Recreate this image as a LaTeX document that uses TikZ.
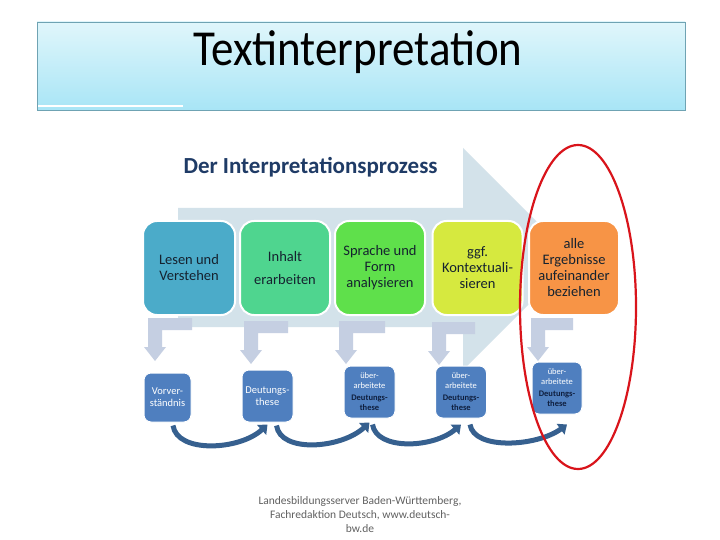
\documentclass[tikz,border=0pt]{standalone}
\usepackage{fontspec}
\setmainfont{Carlito}
\usetikzlibrary{arrows.meta}
\definecolor{titletop}{HTML}{E0F6FB}
\definecolor{titlebot}{HTML}{A8E5F6}
\definecolor{titleline}{HTML}{6FA3B3}
\definecolor{bigarrow}{HTML}{D3E2EA}
\definecolor{boxA}{HTML}{4BABC9}
\definecolor{boxB}{HTML}{4FD58F}
\definecolor{boxC}{HTML}{5FE04B}
\definecolor{boxD}{HTML}{D6E93F}
\definecolor{boxE}{HTML}{F79446}
\definecolor{boxtext}{HTML}{15222F}
\definecolor{lowbox}{HTML}{4F7FBF}
\definecolor{lowtext}{HTML}{0F1F3F}
\definecolor{bentgray}{HTML}{C5CFE2}
\definecolor{curveblue}{HTML}{36608F}
\definecolor{headblue}{HTML}{1F3B66}
\definecolor{ringred}{HTML}{D9141B}
\def\bentarrow(#1,#2)(#3){\fill[bentgray] (#1,-#2) -- (#3,-#2) -- (#3,-#2-12) -- (#1+14,-#2-12) -- (#1+14,-#2-29) -- (#1+18,-#2-29) -- (#1+7,-#2-43) -- (#1-4,-#2-29) -- (#1,-#2-29) -- cycle;}
\def\redone{\bfseries\color{lowtext}}

\begin{document}
\begin{tikzpicture}[x=1pt,y=1pt,
    topbox/.style={draw=white, line width=2pt, rounded corners=14pt, minimum width=90pt, minimum height=94pt, align=center, text=boxtext, font=\fontsize{14.5}{16}\selectfont},
    lowbox/.style={draw=white, line width=1pt, fill=lowbox, rounded corners=7pt, minimum width=51pt, minimum height=52pt, align=center, text=white, font=\fontsize{10.5}{12}\selectfont},
    reworked/.style={lowbox, font=\fontsize{8.5}{10}\selectfont},
    curvearrow/.style={draw=curveblue, line width=5pt, -{Triangle[width=13pt,length=8pt]}}]
    %%%%% START %%%%%

    \useasboundingbox (0,0) rectangle (720,-540);
    \fill[white] (0,0) rectangle (720,-540);

    % title
    \draw[titleline, top color=titletop, bottom color=titlebot] (37,-22) rectangle (685,-110);
    \draw[white, line width=1.5pt] (38,-106) -- (183,-106);
    \node (title) at (358,-52) {\scalebox{1}[1.12]{\fontsize{45}{50}\selectfont Textinterpretation}};

    % big arrow
    \fill[bigarrow] (178,-208) -- (463,-208) -- (463,-148) -- (574,-259) -- (463,-370) -- (463,-327) -- (178,-327) -- cycle;
    \node[anchor=west, text=headblue] (head) at (180,-167) {\fontsize{23}{27}\selectfont\bfseries Der Interpretationsprozess};

    % steps
    \node[topbox, fill=boxA, minimum width=92pt] (lesen) at (189,-268) {Lesen und\\Verstehen};
    \node[topbox, fill=boxB] (inhalt) at (285,-268) {Inhalt\\[7pt]erarbeiten};
    \node[topbox, fill=boxC] (sprache) at (380,-268) {Sprache und\\Form\\analysieren};
    \node[topbox, fill=boxD] (kontext) at (477.5,-268) {ggf.\\Kontextuali-\\sieren};
    \node[topbox, fill=boxE] (alle) at (574,-268) {alle\\Ergebnisse\\aufeinander\\beziehen};

    % bent arrows
    \bentarrow(148,318)(192)
    \bentarrow(244,321)(288)
    \bentarrow(339,321)(385)
    \bentarrow(432,322)(475)
    \bentarrow(531,318)(573)

    % results
    \node[lowbox, minimum width=47pt, minimum height=49pt] (vorver) at (167.5,-397.5) {Vorver-\\ständnis};
    \node[lowbox] (these) at (267.5,-396) {Deutungs-\\these};
    \node[reworked] (ueberA) at (369.5,-392) {über-\\arbeitete\\[2pt]{\redone Deutungs-}\\{\redone these}};
    \node[reworked] (ueberB) at (461,-392) {über-\\arbeitete\\[2pt]{\redone Deutungs-}\\{\redone these}};
    \node[reworked, minimum width=50pt] (ueberC) at (557,-388) {über-\\arbeitete\\[2pt]{\redone Deutungs-}\\{\redone these}};

    % curved arrows
    \draw[curvearrow] ([xshift=5.5pt,yshift=-3pt]vorver.south) .. controls +(4,-28) and +(-28,-26) .. ([yshift=-2pt]these.south);
    \draw[curvearrow] ([xshift=9pt,yshift=-3pt]these.south) .. controls +(4,-28) and +(-28,-26) .. ([yshift=-4pt]ueberA.south);
    \draw[curvearrow] ([xshift=3pt,yshift=-6pt]ueberA.south) .. controls +(4,-26) and +(-28,-24) .. ([yshift=-6pt]ueberB.south);
    \draw[curvearrow] ([xshift=9pt,yshift=-6pt]ueberB.south) .. controls +(4,-26) and +(-30,-22) .. ([xshift=10pt,yshift=-10pt]ueberC.south);

    % red ring
    \draw[ringred, line width=2.2pt] (578,-307) ellipse [x radius=58, y radius=162];

    % footer
    \node[align=center, text=black!62, font=\fontsize{11.5}{14}\selectfont] (source) at (360,-515) {Landesbildungsserver Baden-Württemberg,\\Fachredaktion Deutsch, www.deutsch-\\bw.de};

    %%%%% END %%%%%
\end{tikzpicture}
\end{document}
